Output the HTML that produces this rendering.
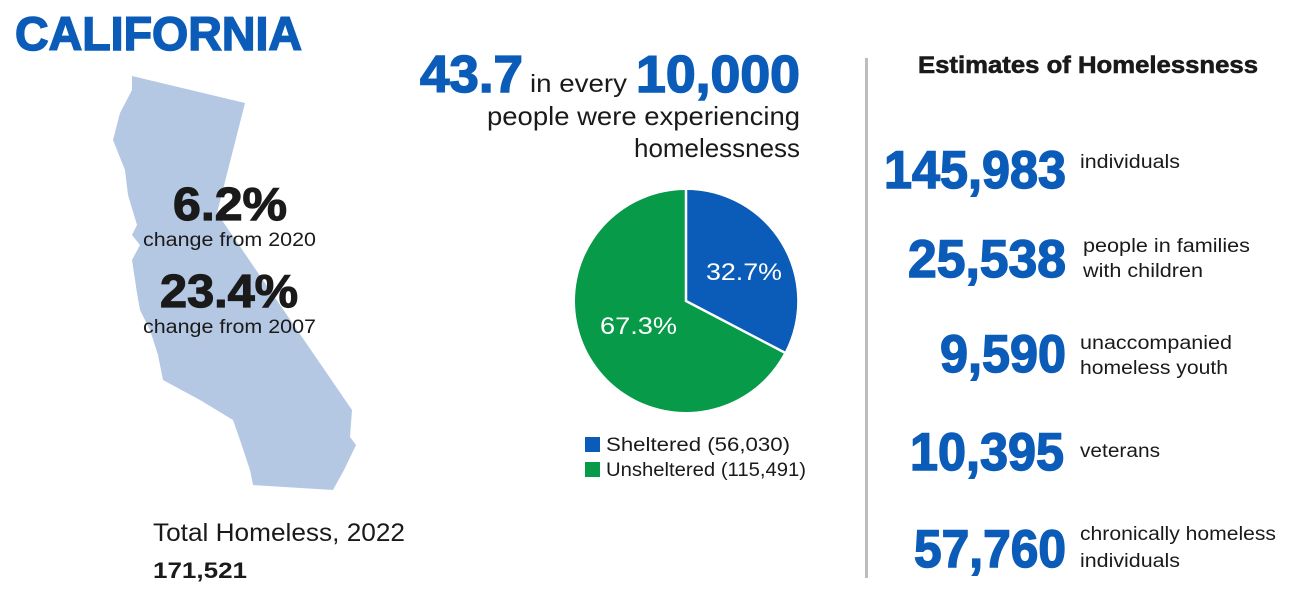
<!DOCTYPE html>
<html><head><meta charset="utf-8"><style>
html,body{margin:0;padding:0;background:#fff;}
svg{display:block;font-family:"Liberation Sans",sans-serif;}
</style></head><body>
<svg width="1289" height="589" viewBox="0 0 1289 589" xmlns="http://www.w3.org/2000/svg">
<rect width="1289" height="589" fill="#fff"/>
<text x="15" y="50" font-size="47" font-weight="bold" fill="#0b5cb8" stroke="#0b5cb8" stroke-width="1.5" textLength="287" lengthAdjust="spacingAndGlyphs">CALIFORNIA</text>
<path d="M132,76 L245,103 L217,213 L352,410 L350,437 L356,445 L344,470 L333,490 L253,485 L250,470 L240,440 L233,420 L200,400 L163,380 L158,355 L150,330 L140,310 L137,293 L132,260 L140,245 L132,235 L137,225 L128,195 L125,170 L113,140 L120,113 L132,90 Z" fill="#b4c7e3"/>
<g fill="#1a1a1a" stroke="#1a1a1a" stroke-width="1.2" font-weight="bold" font-size="46">
<text x="173" y="220" textLength="114" lengthAdjust="spacingAndGlyphs">6.2%</text>
<text x="160" y="307" textLength="138" lengthAdjust="spacingAndGlyphs">23.4%</text>
</g>
<text x="143" y="246" font-size="19" fill="#1a1a1a" textLength="173" lengthAdjust="spacingAndGlyphs">change from 2020</text>
<text x="143" y="333" font-size="19" fill="#1a1a1a" textLength="173" lengthAdjust="spacingAndGlyphs">change from 2007</text>
<text x="153" y="541" font-size="25" fill="#1a1a1a" textLength="252" lengthAdjust="spacingAndGlyphs">Total Homeless, 2022</text>
<text x="153" y="578" font-size="22" font-weight="bold" fill="#1a1a1a" textLength="94" lengthAdjust="spacingAndGlyphs">171,521</text>

<text x="420" y="92" font-size="52" font-weight="bold" fill="#0b5cb8" stroke="#0b5cb8" stroke-width="1.5" textLength="103" lengthAdjust="spacingAndGlyphs">43.7</text>
<text x="530" y="92" font-size="25" fill="#1a1a1a" textLength="97" lengthAdjust="spacingAndGlyphs">in every</text>
<text x="636" y="92" font-size="52" font-weight="bold" fill="#0b5cb8" stroke="#0b5cb8" stroke-width="1.5" textLength="164" lengthAdjust="spacingAndGlyphs">10,000</text>
<text x="487" y="125" font-size="26" fill="#1a1a1a" textLength="313" lengthAdjust="spacingAndGlyphs">people were experiencing</text>
<text x="634" y="157" font-size="26" fill="#1a1a1a" textLength="166" lengthAdjust="spacingAndGlyphs">homelessness</text>

<circle cx="686" cy="301" r="111" fill="#079a48"/>
<path d="M686,301 L686,190 A111,111 0 0 1 784.5,352.5 Z" fill="#0b5cb8"/>
<path d="M686,190 L686,301 L784.5,352.5" fill="none" stroke="#fff" stroke-width="2.5"/>
<text x="706" y="280" font-size="24" fill="#fff" textLength="76" lengthAdjust="spacingAndGlyphs">32.7%</text>
<text x="600" y="334" font-size="24" fill="#fff" textLength="77" lengthAdjust="spacingAndGlyphs">67.3%</text>
<rect x="585" y="437" width="15" height="15" fill="#0b5cb8"/>
<text x="606" y="451" font-size="19" fill="#1a1a1a" textLength="184" lengthAdjust="spacingAndGlyphs">Sheltered (56,030)</text>
<rect x="585" y="462" width="15" height="15" fill="#079a48"/>
<text x="606" y="476" font-size="19" fill="#1a1a1a" textLength="200" lengthAdjust="spacingAndGlyphs">Unsheltered (115,491)</text>

<rect x="865" y="58" width="3" height="520" fill="#bdbdbd"/>
<text x="918" y="73" font-size="24" font-weight="bold" fill="#1a1a1a" stroke="#1a1a1a" stroke-width="0.6" textLength="340" lengthAdjust="spacingAndGlyphs">Estimates of Homelessness</text>
<g font-weight="bold" fill="#0b5cb8" stroke="#0b5cb8" stroke-width="1.5" font-size="53">
<text x="884" y="188" textLength="182" lengthAdjust="spacingAndGlyphs">145,983</text>
<text x="908" y="277" textLength="158" lengthAdjust="spacingAndGlyphs">25,538</text>
<text x="940" y="372" textLength="126" lengthAdjust="spacingAndGlyphs">9,590</text>
<text x="910" y="470" textLength="154" lengthAdjust="spacingAndGlyphs">10,395</text>
<text x="914" y="567" textLength="152" lengthAdjust="spacingAndGlyphs">57,760</text>
</g>
<g fill="#1a1a1a" font-size="19">
<text x="1080" y="168" textLength="100" lengthAdjust="spacingAndGlyphs">individuals</text>
<text x="1083" y="252" textLength="167" lengthAdjust="spacingAndGlyphs">people in families</text>
<text x="1083" y="277" textLength="120" lengthAdjust="spacingAndGlyphs">with children</text>
<text x="1080" y="349" textLength="152" lengthAdjust="spacingAndGlyphs">unaccompanied</text>
<text x="1080" y="374" textLength="148" lengthAdjust="spacingAndGlyphs">homeless youth</text>
<text x="1080" y="457" textLength="80" lengthAdjust="spacingAndGlyphs">veterans</text>
<text x="1080" y="540" textLength="196" lengthAdjust="spacingAndGlyphs">chronically homeless</text>
<text x="1080" y="567" textLength="100" lengthAdjust="spacingAndGlyphs">individuals</text>
</g>
</svg>
</body></html>
